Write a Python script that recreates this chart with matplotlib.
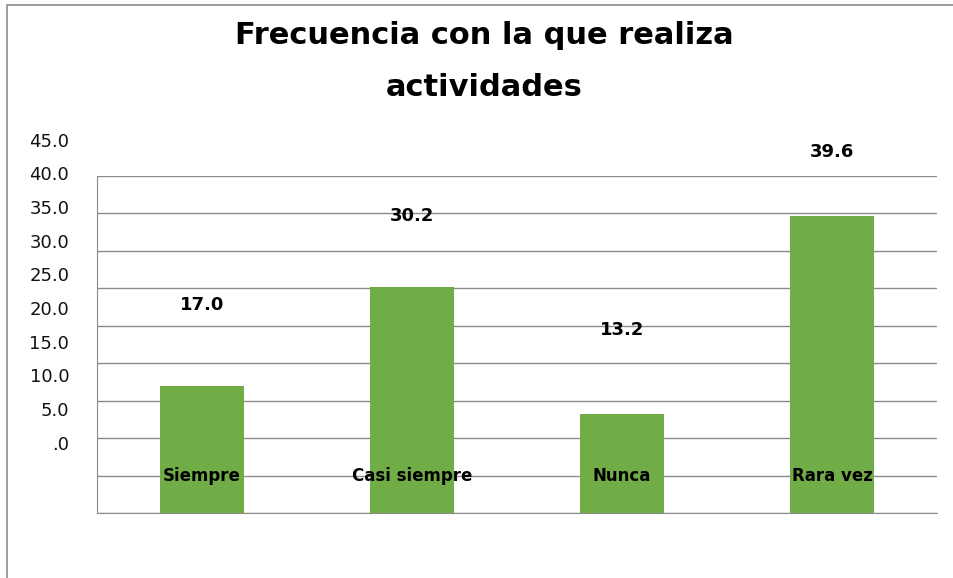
import matplotlib.pyplot as plt
from matplotlib.lines import Line2D

categories = ["Siempre", "Casi siempre", "Nunca", "Rara vez"]
values = [17.0, 30.2, 13.2, 39.6]
tick_values = [0, 5, 10, 15, 20, 25, 30, 35, 40, 45]
tick_labels = [".0", "5.0", "10.0", "15.0", "20.0", "25.0", "30.0", "35.0", "40.0", "45.0"]

# the source chart draws its tick labels and value labels on a squeezed,
# shifted scale compared to the gridlines; keep that look
label_scale = 0.9
tick_base = 9.1
value_base = 12.5

plt.rcParams["font.family"] = ["DejaVu Sans"]

fig = plt.figure(figsize=(9.54, 5.78), dpi=100)
ax = fig.add_axes([97 / 954, 65 / 578, 840 / 954, 337 / 578])

x = range(len(categories))
ax.bar(x, values, width=0.4, color="#70AD47", zorder=3)

ax.set_xlim(-0.5, 3.5)
ax.set_ylim(0, 45)
ax.set_yticks(tick_values)
ax.set_yticklabels([])
ax.set_xticks([])
ax.tick_params(left=False)
ax.yaxis.grid(True, color="#8c8c8c", linewidth=1.0, zorder=0)
ax.set_axisbelow(True)

for s in ["top", "right"]:
    ax.spines[s].set_visible(False)
ax.spines["left"].set_color("#8c8c8c")
ax.spines["bottom"].set_color("#8c8c8c")

ytrans = ax.get_yaxis_transform()
for v, lab in zip(tick_values, tick_labels):
    ax.text(-0.033, tick_base + label_scale * v, lab, transform=ytrans,
            ha="right", va="center", fontsize=13, color="#111111", clip_on=False)

for i, v in enumerate(values):
    ax.text(i, value_base + label_scale * v, f"{v:.1f}", ha="center", va="center",
            fontsize=13, fontweight="bold", clip_on=False, zorder=5)
    ax.text(i, 5, categories[i], ha="center", va="center",
            fontsize=12, fontweight="bold", zorder=5)

fig.text(0.508, 1 - 62 / 578, "Frecuencia con la que realiza\nactividades",
         ha="center", va="center", fontsize=22, fontweight="bold",
         linespacing=2.0)

# outer chart border (left and top edges visible)
fig.add_artist(Line2D([7 / 954, 7 / 954, 1.0], [0.0, 1 - 5 / 578, 1 - 5 / 578],
                      transform=fig.transFigure, color="#8c8c8c", linewidth=1.2))

fig.savefig("out.png", dpi=100)
